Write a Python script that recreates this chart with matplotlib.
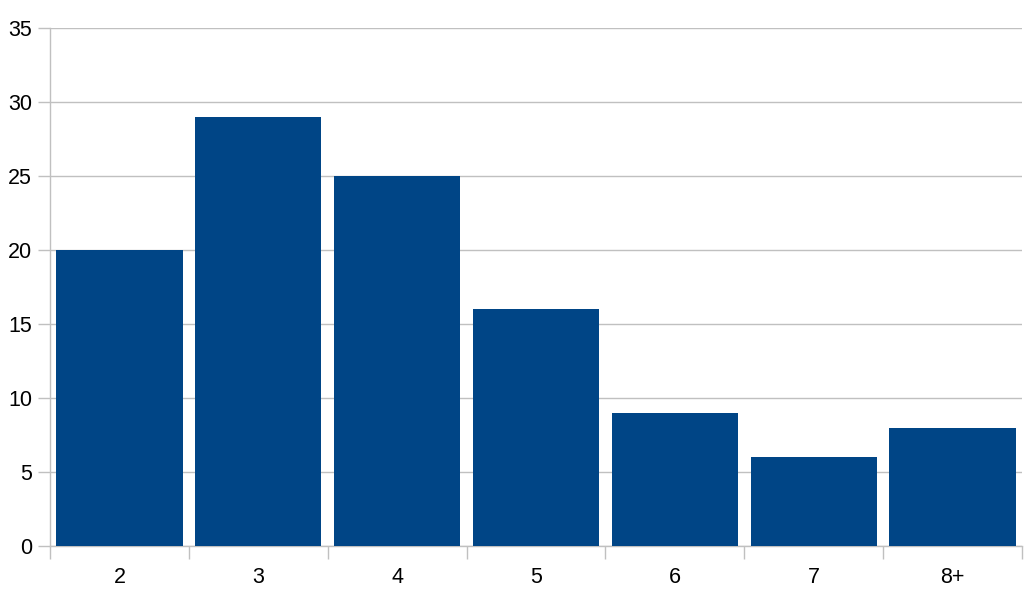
import matplotlib.pyplot as plt
import numpy as np

categories = ["2", "3", "4", "5", "6", "7", "8+"]
counts = [20, 29, 25, 16, 9, 6, 8]

plt.rcParams["font.family"] = ["Liberation Sans", "DejaVu Sans"]

fig = plt.figure(figsize=(10.32, 5.97), dpi=100)
ax = fig.add_axes([50 / 1032, 51 / 597, 972 / 1032, 518 / 597])

x = np.arange(len(categories))
ax.bar(x, counts, width=0.91, color="#004586", zorder=3)

ax.set_xlim(-0.5, len(categories) - 0.5)
ax.set_ylim(0, 35)
ax.set_yticks(np.arange(0, 36, 5))
ax.yaxis.grid(True, color="#c0c0c0", lw=1)
ax.set_axisbelow(True)

ax.set_xticks(x)
ax.set_xticklabels(categories)
ax.set_xticks(np.arange(-0.5, len(categories)), minor=True)
ax.tick_params(axis="x", which="major", length=0, pad=15, labelsize=15.5)
ax.tick_params(axis="x", which="minor", length=9, color="#c0c0c0", width=1)
ax.tick_params(axis="y", length=9, color="#c0c0c0", width=1, labelsize=15.5, pad=4)

for s in ["top", "right"]:
    ax.spines[s].set_visible(False)
for s in ["left", "bottom"]:
    ax.spines[s].set_color("#c0c0c0")
    ax.spines[s].set_linewidth(1)

fig.savefig("out.png", dpi=100)
